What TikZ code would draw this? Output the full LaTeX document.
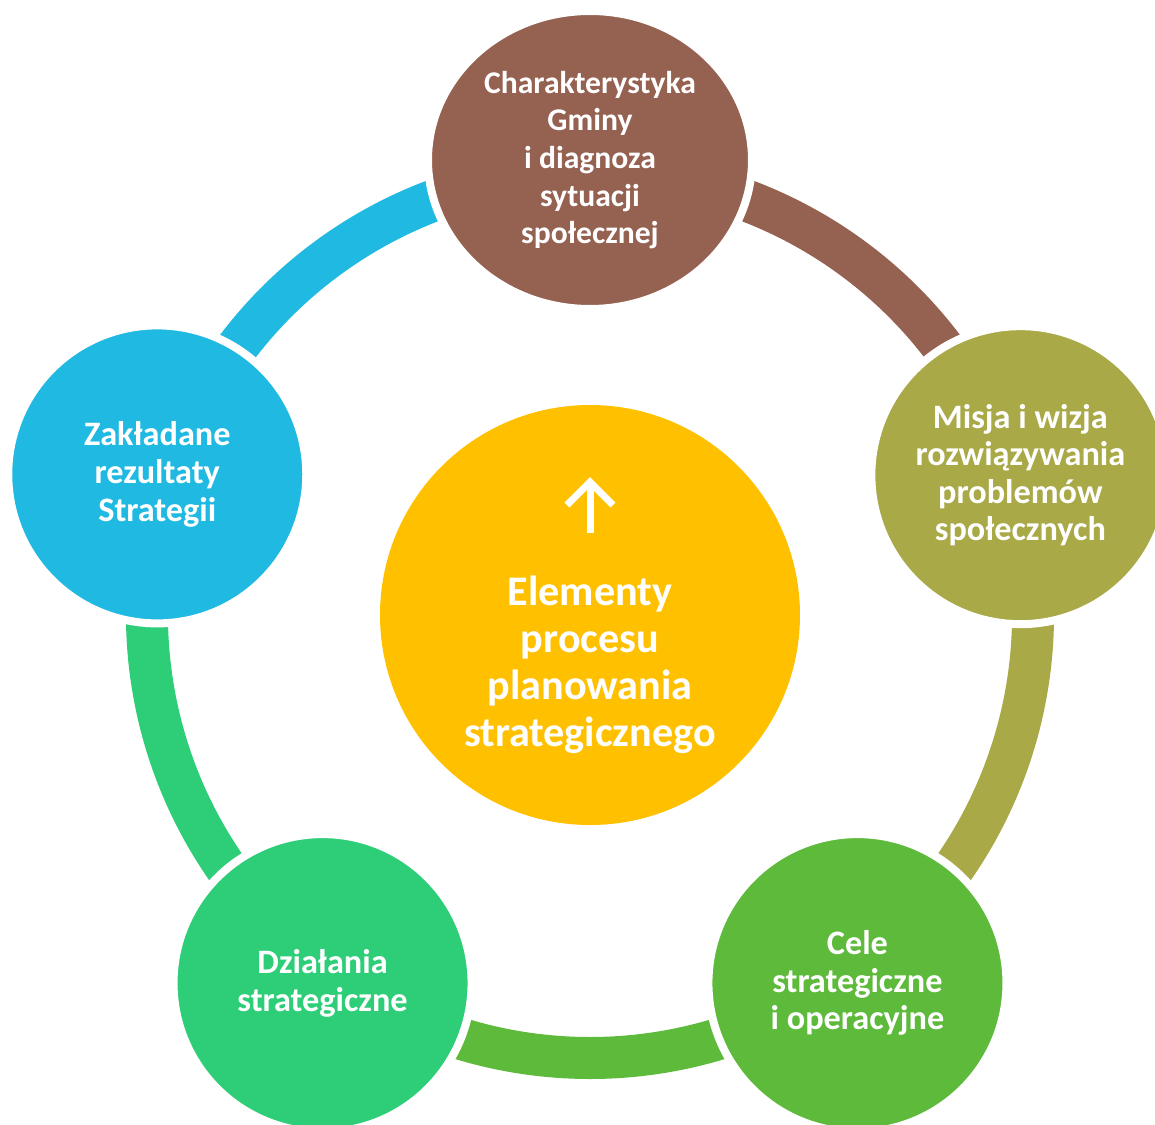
\documentclass[tikz,border=0pt]{standalone}
\definecolor{diagbrown}{RGB}{149,97,80}
\definecolor{visionolive}{RGB}{169,169,72}
\definecolor{goalgreen}{RGB}{93,186,59}
\definecolor{actiongreen}{RGB}{46,206,120}
\definecolor{resultblue}{RGB}{31,185,226}
\definecolor{coreyellow}{RGB}{255,192,0}
\usepackage{fontspec}
\setmainfont{Carlito}
\usepackage{tikz}
\usetikzlibrary{shapes.geometric}

\begin{document}
\begin{tikzpicture}[
    stage/.style={circle,fill=#1,draw=white,line width=0.16cm,
      minimum size=5.96cm,inner sep=0pt,text=white,align=center,
      font=\bfseries\fontsize{19.5}{21.4}\selectfont},
    band/.style={draw=#1,line width=0.84cm}]
        \useasboundingbox (-11.8,-10.18) rectangle (11.3,12.3);
        % ring between the stages
        \coordinate (hub) at (0,0);
        \draw[band=diagbrown]   ([shift={(90:8.86)}]hub)  arc[start angle=90,end angle=18,radius=8.86];
        \draw[band=visionolive] ([shift={(18:8.86)}]hub)  arc[start angle=18,end angle=-54,radius=8.86];
        \draw[band=goalgreen]   ([shift={(-54:8.86)}]hub) arc[start angle=-54,end angle=-126,radius=8.86];
        \draw[band=actiongreen] ([shift={(-126:8.86)}]hub) arc[start angle=-126,end angle=-198,radius=8.86];
        \draw[band=resultblue]  ([shift={(162:8.86)}]hub) arc[start angle=162,end angle=90,radius=8.86];
        % stages
        \node[stage=diagbrown,ellipse,minimum width=6.48cm,minimum height=5.96cm,
              font=\bfseries\fontsize{18}{21.4}\selectfont]
              (diag) at (90:9.1) {Charakterystyka\\Gminy\\i diagnoza\\sytuacji\\społecznej};
        \node[stage=visionolive] (vision) at (18:9.05)
              {Misja i wizja\\rozwiązywania\\problemów\\społecznych};
        \node[stage=goalgreen] (goals) at (-54:9.1)
              {Cele\\strategiczne\\i operacyjne};
        \node[stage=actiongreen] (actions) at (-126:9.1)
              {Działania\\strategiczne};
        \node[stage=resultblue] (results) at (162:9.1)
              {Zakładane\\rezultaty\\Strategii};
        % centre
        \node[circle,fill=coreyellow,minimum size=8.4cm,inner sep=0pt] (core) at (hub) {};
        \node[text=white,align=center,font=\bfseries\fontsize{24}{26.7}\selectfont]
              (title) at (0,-1.0) {Elementy\\procesu\\planowania\\strategicznego};
        \draw[white,line width=0.14cm] (0,1.64)--(0,2.66);
        \draw[white,line width=0.14cm,line join=miter] (-0.46,2.2)--(0,2.66)--(0.46,2.2);
      \end{tikzpicture}
\end{document}
